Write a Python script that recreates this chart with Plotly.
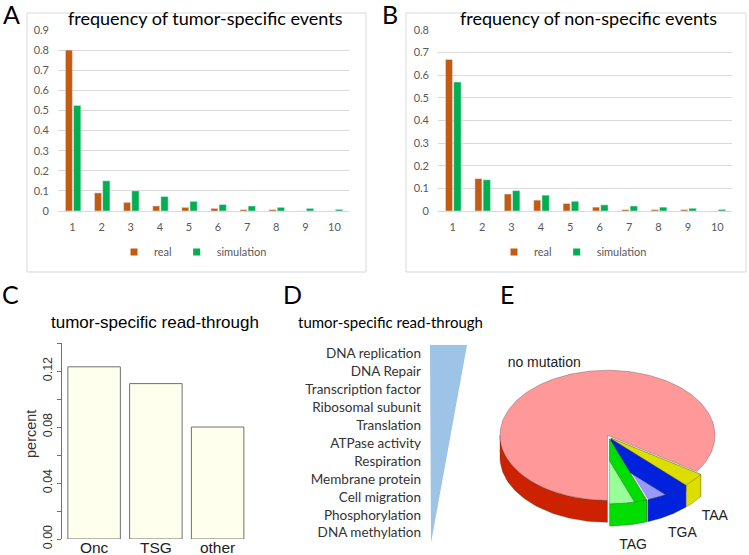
import math
import plotly.graph_objects as go

W, H = 749, 555

# ---------------- data ----------------
events = list(range(1, 11))
a_real = [0.80, 0.09, 0.043, 0.025, 0.018, 0.013, 0.007, 0.007, 0.0, 0.0]
a_sim = [0.525, 0.15, 0.10, 0.072, 0.048, 0.032, 0.025, 0.018, 0.013, 0.008]
b_real = [0.67, 0.143, 0.075, 0.048, 0.033, 0.017, 0.006, 0.006, 0.006, 0.0]
b_sim = [0.57, 0.138, 0.09, 0.07, 0.043, 0.027, 0.022, 0.017, 0.012, 0.007]

c_cats = ["Onc", "TSG", "other"]
c_vals = [0.123, 0.111, 0.080]
c_ticks = [0.00, 0.02, 0.04, 0.06, 0.08, 0.10, 0.12, 0.14]
c_ticktext = ["0.00", "", "0.04", "", "0.08", "", "0.12", ""]

d_terms = ["DNA replication", "DNA Repair", "Transcription factor", "Ribosomal subunit",
           "Translation", "ATPase activity", "Respiration", "Membrane protein",
           "Cell migration", "Phosphorylation", "DNA methylation"]

e_labels = ["no mutation", "TAG", "TGA", "TAA"]
e_vals = [84.4, 5.6, 6.7, 3.3]

# ---------------- helpers ----------------
def px(x):
    return x / W

def py(y):
    return 1 - y / H

CAL = "Lato, Calibri, sans-serif"
ARIAL = "Liberation Sans, Arial, sans-serif"
GREY = "#595959"
ORANGE = "#C55A11"
GREEN = "#00B050"

fig = go.Figure()

# ---------------- A & B bar charts ----------------
for real, sim, xa, ya, lg in [(a_real, a_sim, "x", "y", "legend"),
                             (b_real, b_sim, "x2", "y2", "legend2")]:
    fig.add_trace(go.Bar(x=events, y=real, width=0.24, offset=-0.245,
                         marker_color=ORANGE, xaxis=xa, yaxis=ya, showlegend=False))
    fig.add_trace(go.Bar(x=events, y=sim, width=0.25, offset=0.035,
                         marker_color=GREEN, xaxis=xa, yaxis=ya, showlegend=False))
    fig.add_trace(go.Scatter(x=[None], y=[None], mode="markers", name="real",
                             marker=dict(symbol="square", size=7, color=ORANGE),
                             xaxis=xa, yaxis=ya, legend=lg))
    fig.add_trace(go.Scatter(x=[None], y=[None], mode="markers", name="simulation",
                             marker=dict(symbol="square", size=7, color=GREEN),
                             xaxis=xa, yaxis=ya, legend=lg))

# ---------------- C bar chart ----------------
fig.add_trace(go.Bar(x=c_cats, y=c_vals, width=0.85,
                     marker=dict(color="#FFFFEE", line=dict(color="#707070", width=1)),
                     xaxis="x3", yaxis="y3", showlegend=False))

# ---------------- D ranked list ----------------
fig.add_trace(go.Scatter(x=[141] * len(d_terms), y=d_terms, mode="text", text=d_terms,
                         textposition="middle left",
                         textfont=dict(family=CAL, size=13.5, color="#333333"),
                         xaxis="x4", yaxis="y4", showlegend=False, hoverinfo="skip"))

# ---------------- E 3D pie ----------------
RY = 0.605      # vertical squash of the pie top
DEPTH = 0.205   # thickness of the pie
EXPL = 0.03     # explode distance
LABR = 1.25     # label radius
tops = ["#FF9999", "#99FF99", "#9999FF", "#FFFF99"]
walls = ["#CC2200", "#00DD00", "#0022DD", "#DDDD00"]
edge = dict(color="rgba(60,60,60,0.55)", width=0.6)

total = sum(e_vals)
fracs = [v / total for v in e_vals]
start = 270 - fracs[0] * 360
angles = []
a0 = start
for f in fracs:
    angles.append((a0, a0 + f * 360))
    a0 += f * 360


def arc(t0, t1, n=60):
    pts = []
    for i in range(n + 1):
        t = math.radians(t0 + (t1 - t0) * i / n)
        pts.append((math.cos(t), RY * math.sin(t)))
    return pts


def poly(pts, color, dx, dy):
    xs = [p[0] + dx for p in pts] + [pts[0][0] + dx]
    ys = [p[1] + dy for p in pts] + [pts[0][1] + dy]
    fig.add_trace(go.Scatter(x=xs, y=ys, mode="lines", fill="toself", fillcolor=color,
                             line=edge, xaxis="x5", yaxis="y5", showlegend=False,
                             hoverinfo="skip"))


def offset(i):
    t0, t1 = angles[i]
    m = math.radians((t0 + t1) / 2)
    return EXPL * math.cos(m), EXPL * RY * math.sin(m), m


# big slice: front wall then top
dx, dy, _ = offset(0)
t0, t1 = angles[0]
rim = arc(max(t0, 180), t1)
poly(rim + [(x, y - DEPTH) for x, y in reversed(rim)], walls[0], dx, dy)
poly([(0, 0)] + arc(t0, t1, 200), tops[0], dx, dy)

# small slices, drawn from the last one backwards: top + end wall
for i in range(len(angles) - 1, 0, -1):
    dx, dy, _ = offset(i)
    t0, t1 = angles[i]
    poly([(0, 0)] + arc(t0, t1), tops[i], dx, dy)
    e = math.radians(t1)
    ex, ey = math.cos(e), RY * math.sin(e)
    poly([(0, 0), (ex, ey), (ex, ey - DEPTH), (0, -DEPTH)], walls[i], dx, dy)

# outer walls of small slices
for i in range(1, len(angles)):
    dx, dy, _ = offset(i)
    t0, t1 = angles[i]
    rim = arc(t0, t1)
    poly(rim + [(x, y - DEPTH) for x, y in reversed(rim)], walls[i], dx, dy)

label_x, label_y = [], []
for i in range(len(angles)):
    dx, dy, m = offset(i)
    label_x.append(LABR * math.cos(m) + dx)
    label_y.append(LABR * RY * math.sin(m) + dy - (1.2 * DEPTH if math.sin(m) < 0 else 0))

fig.add_trace(go.Scatter(x=label_x, y=label_y, mode="text", text=e_labels,
                         textposition="middle center",
                         textfont=dict(family=ARIAL, size=14, color="#222222"),
                         xaxis="x5", yaxis="y5", showlegend=False, hoverinfo="skip"))

# ---------------- layout ----------------
tickfont_ab = dict(family=CAL, size=11, color=GREY)
common_x = dict(range=[0.5, 10.5], tickvals=events, showgrid=False, zeroline=False,
                showline=True, linecolor="#D9D9D9", ticks="", tickfont=tickfont_ab,
                ticklabelstandoff=6, automargin=False, fixedrange=True)
common_y = dict(showgrid=True, gridcolor="#D9D9D9", zeroline=False, showline=False,
                ticks="", tickfont=tickfont_ab, ticklabelstandoff=8,
                automargin=False, dtick=0.1)

fig.update_layout(
    width=W, height=H, margin=dict(l=0, r=0, t=0, b=0),
    paper_bgcolor="white", plot_bgcolor="rgba(0,0,0,0)",
    barmode="overlay",
    xaxis=dict(domain=[px(58), px(349)], anchor="y", **common_x),
    yaxis=dict(domain=[py(211), py(30)], anchor="x", range=[0, 0.9], **common_y),
    xaxis2=dict(domain=[px(438), px(732)], anchor="y2", **common_x),
    yaxis2=dict(domain=[py(211), py(30)], anchor="x2", range=[0, 0.8], **common_y),
    xaxis3=dict(domain=[px(62), px(248.5)], anchor="free", position=py(536),
                range=[-0.52, 2.5],
                showgrid=False, zeroline=False, showline=False, ticks="",
                tickfont=dict(family=ARIAL, size=15.5, color="#222222"), automargin=False),
    yaxis3=dict(domain=[py(539), py(343)], anchor="x3", range=[0, 0.14],
                tickvals=c_ticks, ticktext=c_ticktext, tickangle=-90,
                ticks="outside", ticklen=4, tickcolor="#707070", ticklabelstandoff=0,
                showline=True, linecolor="#707070", showgrid=False, zeroline=False,
                tickfont=dict(family=ARIAL, size=12.5, color="#333333"),
                automargin=False),
    xaxis4=dict(domain=[px(280), px(480)], anchor="y4", range=[0, 200], visible=False),
    yaxis4=dict(domain=[py(543), py(346)], anchor="x4", type="category",
                range=[len(d_terms) - 0.5, -0.5], visible=False),
    xaxis5=dict(domain=[px(490), px(749)], anchor="y5",
                range=[(490 - 609) / 107.5, (749 - 609) / 107.5], visible=False),
    yaxis5=dict(domain=[py(555), py(340)], anchor="x5",
                range=[-(555 - 437) / 107.5, (437 - 340) / 107.5], visible=False),
    legend=dict(orientation="h", x=px(193), y=py(252), xanchor="center", yanchor="middle",
                font=dict(family=CAL, size=11, color=GREY), itemwidth=30,
                bgcolor="rgba(0,0,0,0)"),
    legend2=dict(orientation="h", x=px(573), y=py(252), xanchor="center", yanchor="middle",
                 font=dict(family=CAL, size=11, color=GREY), itemwidth=30,
                 bgcolor="rgba(0,0,0,0)"),
    showlegend=True,
)

# frames around A and B
for x0, x1 in [(27, 366), (406, 746)]:
    fig.add_shape(type="rect", xref="paper", yref="paper", x0=px(x0), x1=px(x1),
                  y0=py(272), y1=py(13), line=dict(color="#D9D9D9", width=1))

# decorative ranking wedge for D
fig.add_shape(type="path", xref="paper", yref="paper",
              path=f"M {px(430)} {py(345)} L {px(467)} {py(345)} L {px(431)} {py(543)} Z",
              fillcolor="#9DC3E6", line=dict(width=0))

ann = []
for letter, x, y in [("A", 11, 14), ("B", 390, 14), ("C", 10, 294), ("D", 292, 294), ("E", 507, 294)]:
    ann.append(dict(text=letter, x=px(x), y=py(y), xref="paper", yref="paper",
                    showarrow=False, xanchor="center", yanchor="middle",
                    font=dict(family=CAL, size=25, color="black")))
for txt, x, y, fam, size in [("frequency of tumor-specific events", 205, 18, CAL, 18),
                             ("frequency of non-specific events", 588, 18, CAL, 18),
                             ("tumor-specific read-through", 155, 322, ARIAL, 17),
                             ("tumor-specific read-through", 390, 322, CAL, 15)]:
    ann.append(dict(text=txt, x=px(x), y=py(y), xref="paper", yref="paper",
                    showarrow=False, xanchor="center", yanchor="middle",
                    font=dict(family=fam, size=size, color="black")))
ann.append(dict(text="percent", x=px(31), y=py(434), xref="paper", yref="paper",
                showarrow=False, xanchor="center", yanchor="middle", textangle=-90,
                font=dict(family=ARIAL, size=14.5, color="#333333")))
fig.update_layout(annotations=ann)

fig.write_html("out.html", config={"displayModeBar": False},
               post_script="document.body.style.margin='0px';")
